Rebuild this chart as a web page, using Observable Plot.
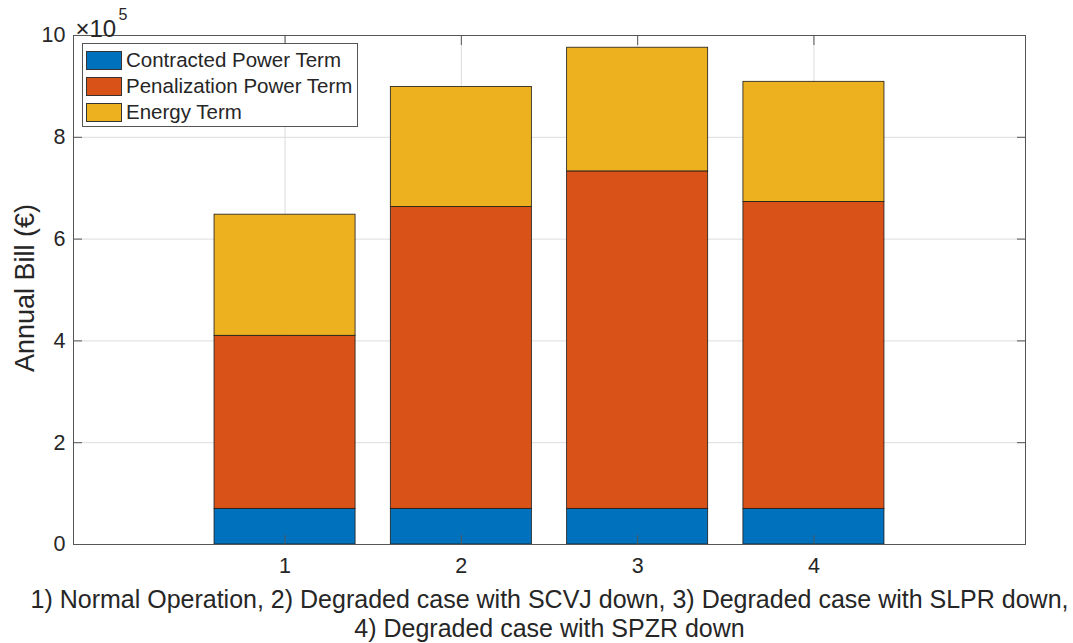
<!DOCTYPE html>
<html>
<head>
<meta charset="utf-8">
<script src="https://cdn.jsdelivr.net/npm/d3@7"></script>
<script src="https://cdn.jsdelivr.net/npm/@observablehq/plot@0.6"></script>
<style>
  html, body { margin: 0; padding: 0; background: #fff; }
  #wrap { position: relative; width: 1073px; height: 643px; font-family: "Liberation Sans", Arial, Helvetica, sans-serif; }
  #legend { position: absolute; left: 82px; top: 43px; width: 276px; height: 84px; border: 1px solid #555; background: #fff; box-sizing: border-box; padding-top: 3px; }
  .item { display: flex; align-items: center; height: 26px; font-size: 20.5px; color: #262626; white-space: nowrap; }
  .sw { width: 36px; height: 19px; margin-left: 3px; margin-right: 4px; border: 1px solid #333; box-sizing: border-box; flex: none; }
</style>
</head>
<body>
<div id="wrap"><div id="chart"></div><div id="legend"></div></div>
<script>
// Data (values in units of 10^5 €)
const cases = [1, 2, 3, 4];
const seriesNames = ["Contracted Power Term", "Penalization Power Term", "Energy Term"];
const contracted = [0.70, 0.70, 0.70, 0.70];
const penalization = [3.40, 5.93, 6.63, 6.03];
const energy = [2.38, 2.36, 2.43, 2.36];
const colors = ["#0072BD", "#D95319", "#EDB120"];
const yTicks = [0, 2, 4, 6, 8, 10];
const xTicks = [1, 2, 3, 4];
const xLabel = "1) Normal Operation, 2) Degraded case with SCVJ down, 3) Degraded case with SLPR down,\n4) Degraded case with SPZR down";
const yLabel = "Annual Bill (€)";

const seriesValues = [contracted, penalization, energy];
const rows = [];
cases.forEach((c, i) => {
  let base = 0;
  seriesValues.forEach((vals, s) => {
    rows.push({x1: c - 0.4, x2: c + 0.4, y1: base, y2: base + vals[i], series: seriesNames[s]});
    base += vals[i];
  });
});

const font = '"Liberation Sans", Arial, Helvetica, sans-serif';
const fmt = d => String(d);
const plot = Plot.plot({
  width: 1073,
  height: 643,
  marginLeft: 73,
  marginRight: 48,
  marginTop: 35,
  marginBottom: 99,
  style: {fontFamily: font, fontSize: "21px", color: "#262626", background: "#fff"},
  x: {type: "linear", domain: [-0.2, 5.2]},
  y: {domain: [0, 10]},
  color: {domain: seriesNames, range: colors},
  marks: [
    Plot.gridY(yTicks, {stroke: "#dcdcdc", strokeOpacity: 1}),
    Plot.gridX(xTicks, {stroke: "#dcdcdc", strokeOpacity: 1}),
    Plot.rect(rows, {x1: "x1", x2: "x2", y1: "y1", y2: "y2", fill: "series", stroke: "#1a1a1a", strokeWidth: 0.8}),
    Plot.axisY(yTicks, {anchor: "left", tickSize: -9, text: null, stroke: "#555", label: null}),
    Plot.axisY(yTicks, {anchor: "right", tickSize: -9, text: null, stroke: "#555", label: null}),
    Plot.axisX(xTicks, {anchor: "bottom", tickSize: -9, text: null, stroke: "#555", label: null}),
    Plot.axisX(xTicks, {anchor: "top", tickSize: -9, text: null, stroke: "#555", label: null}),
    Plot.axisY(yTicks, {anchor: "left", tickSize: 0, tickPadding: 8, tickFormat: fmt, fontSize: 21.5, fill: "#262626", label: null}),
    Plot.axisX(xTicks, {anchor: "bottom", tickSize: 0, tickPadding: 13, tickFormat: fmt, fontSize: 21.5, fill: "#262626", label: null}),
    Plot.frame({stroke: "#555"}),
    Plot.text([xLabel], {frameAnchor: "bottom", dy: 43, text: d => d, fontSize: 25, fill: "#262626", lineHeight: 1.16, lineAnchor: "top"}),
    Plot.text([yLabel], {frameAnchor: "left", textAnchor: "middle", dx: -48, dy: -2, rotate: -90, text: d => d, fontSize: 27, fill: "#262626"}),
    Plot.text(["×10"], {frameAnchor: "top-left", dx: 2, dy: -16, textAnchor: "start", text: d => d, fontSize: 24, fill: "#262626"}),
    Plot.text(["5"], {frameAnchor: "top-left", dx: 45, dy: -27, textAnchor: "start", text: d => d, fontSize: 16, fill: "#262626"})
  ]
});
document.getElementById("chart").appendChild(plot);

const legend = document.getElementById("legend");
seriesNames.forEach((name, i) => {
  const it = document.createElement("div");
  it.className = "item";
  const sw = document.createElement("div");
  sw.className = "sw";
  sw.style.background = colors[i];
  const t = document.createElement("span");
  t.textContent = name;
  it.appendChild(sw); it.appendChild(t);
  legend.appendChild(it);
});
</script>
</body>
</html>
